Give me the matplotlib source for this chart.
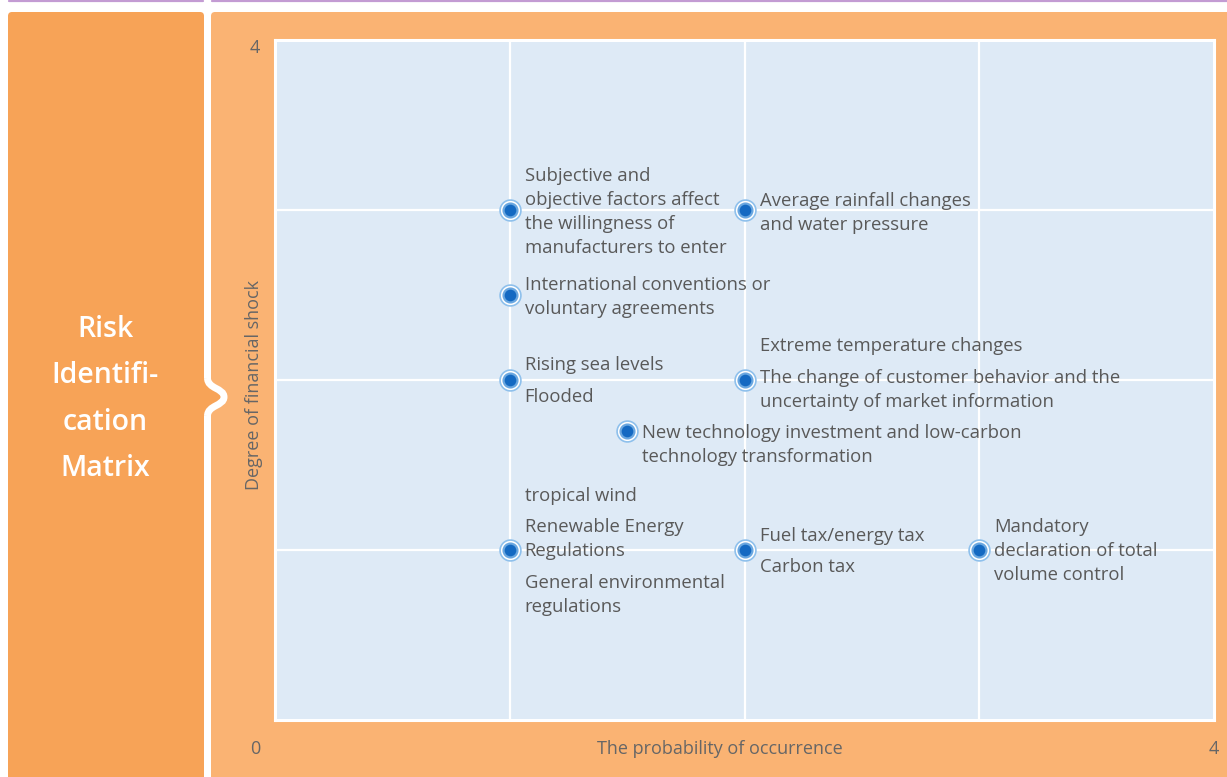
import matplotlib
matplotlib.use("Agg")
import matplotlib.pyplot as plt
from matplotlib.patches import FancyBboxPatch, PathPatch
from matplotlib.path import Path

plt.rcParams['font.family'] = ['Open Sans', 'DejaVu Sans']

# ---- data ----
point_x = [1, 2, 1, 1, 2, 1.5, 1, 2, 3]
point_y = [3, 3, 2.5, 2, 2, 1.7, 1, 1, 1]
point_labels = [
    ["Subjective and\nobjective factors affect\nthe willingness of\nmanufacturers to enter"],
    ["Average rainfall changes\nand water pressure"],
    ["International conventions or\nvoluntary agreements"],
    ["Rising sea levels", "Flooded"],
    ["Extreme temperature changes",
     "The change of customer behavior and the\nuncertainty of market information"],
    ["New technology investment and low-carbon\ntechnology transformation"],
    ["tropical wind", "Renewable Energy\nRegulations",
     "General environmental\nregulations"],
    ["Fuel tax/energy tax", "Carbon tax"],
    ["Mandatory\ndeclaration of total\nvolume control"],
]
# vertical offsets of each label block (pixels, positive = up)
label_dy = [
    [-2], [-3], [-2], [15, -17], [34, -10], [-14], [54, 11, -45], [14, -17], [-1],
]
x_ticks = [0, 4]
y_ticks = [0, 4]
x_title = "The probability of occurrence"
y_title = "Degree of financial shock"
side_title = "Risk\nIdentifi-\ncation\nMatrix"

W, H = 1227, 777
fig = plt.figure(figsize=(W / 100, H / 100), dpi=100)
fig.patch.set_facecolor("white")

bg = fig.add_axes([0, 0, 1, 1])
bg.set_xlim(0, W)
bg.set_ylim(H, 0)
bg.axis("off")

LEFT_C = "#F7A357"
RIGHT_C = "#FAB373"

# top purple lines
bg.plot([9, 203], [0.8, 0.8], color="#C39BD3", lw=1.6, solid_capstyle="round")
bg.plot([212, 1227], [0.8, 0.8], color="#C39BD3", lw=1.6, solid_capstyle="round")

# left orange box
bg.add_patch(FancyBboxPatch((8, 12), 196, 780, boxstyle="round,pad=0,rounding_size=4",
                            fc=LEFT_C, ec="none"))
# right panel
bg.add_patch(FancyBboxPatch((211, 12), 1030, 780, boxstyle="round,pad=0,rounding_size=4",
                            fc=RIGHT_C, ec="none"))
# brace notch
curve = [(207.5, 378), (207.5, 389), (224, 388), (224, 397), (224, 406), (207.5, 405), (207.5, 416)]
ccodes = [Path.MOVETO, Path.CURVE4, Path.CURVE4, Path.CURVE4, Path.CURVE4, Path.CURVE4, Path.CURVE4]
fill_verts = [(200, 378)] + curve[0:] + [(200, 416), (200, 378)]
fill_codes = [Path.MOVETO, Path.LINETO] + ccodes[1:] + [Path.LINETO, Path.CLOSEPOLY]
bg.add_patch(PathPatch(Path(fill_verts, fill_codes), fc=LEFT_C, ec="none"))
bg.add_patch(PathPatch(Path(curve, ccodes), fc="none", ec="white", lw=5))

bg.text(105, 399, side_title, color="white", fontsize=20.5, fontweight="semibold",
        ha="center", va="center", linespacing=1.8)

# main plot
x0, x1, y0, y1 = 275, 1214, 40, 720
ax = fig.add_axes([x0 / W, (H - y1) / H, (x1 - x0) / W, (y1 - y0) / H])
ax.set_facecolor("#DEEAF6")
ax.set_xlim(0, 4)
ax.set_ylim(0, 4)
for s in ax.spines.values():
    s.set_color("white")
    s.set_linewidth(2.2)
ax.set_xticks([1, 2, 3])
ax.set_yticks([1, 2, 3])
ax.tick_params(length=0, labelbottom=False, labelleft=False)
ax.grid(True, color="white", lw=1.6)
ax.set_axisbelow(True)

ax.plot(point_x, point_y, "o", ms=15, mfc="white", mec="#8EC0EC", mew=1.2, zorder=3)
ax.plot(point_x, point_y, "o", ms=10, mfc="#1469C2", mec="#6AA7E0", mew=1.6, zorder=4)

for px, py, labs, dys in zip(point_x, point_y, point_labels, label_dy):
    for lab, dy in zip(labs, dys):
        ax.annotate(lab, (px, py), xytext=(15 * 0.72, dy * 0.72), textcoords="offset points",
                    ha="left", va="center", fontsize=13.3, color="#595959", linespacing=1.42,
                    zorder=5)

txt_col = "#666666"
bg.text(255, 48, str(y_ticks[1]), color=txt_col, fontsize=13, ha="center", va="center")
bg.text(255, 749, str(x_ticks[0]), color=txt_col, fontsize=13, ha="center", va="center")
bg.text(1214, 749, str(x_ticks[1]), color=txt_col, fontsize=13, ha="center", va="center")
bg.text(720, 749, x_title, color=txt_col, fontsize=13, ha="center", va="center")
bg.text(254, 385, y_title, color=txt_col, fontsize=13, ha="center", va="center", rotation=90)

fig.savefig("out.png", dpi=100, facecolor="white")
